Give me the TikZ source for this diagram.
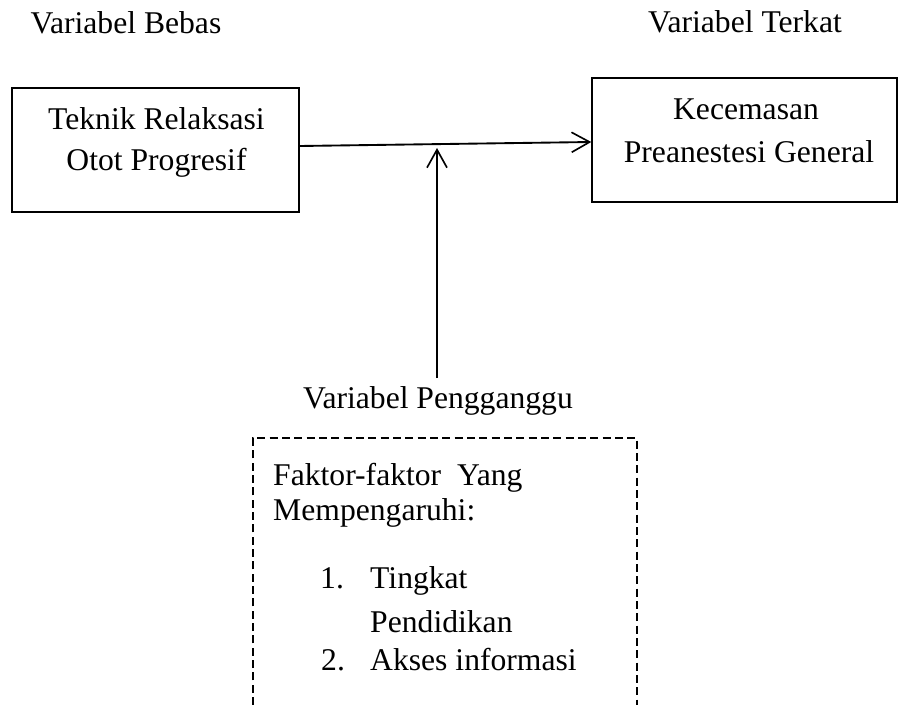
\documentclass[tikz,border=0pt]{standalone}
\usepackage{fontspec}
\setmainfont{Liberation Serif}
\usetikzlibrary{arrows.meta}

\begin{document}
\begin{tikzpicture}[x=0.03cm, y=-0.03cm,
		every node/.style={font=\fontsize{27}{34}\selectfont, inner sep=0pt},
		varbox/.style={draw, line width=1.2pt, minimum width=#1},
		arr/.style={line width=1.6pt, -{Straight Barb[length=0.54cm, width=0.6cm, line width=1.4pt]}},
		dashbox/.style={line width=1pt, dash pattern=on 0.24cm off 0.13cm}]
			%%%%% START %%%%%
			\useasboundingbox (0, 0) rectangle (899, 705);
			
			\node[anchor=base] (lblbebas) at (126, 34) {Variabel Bebas};
			\node[anchor=base] (lblterkat) at (745, 33) {Variabel Terkat};
			
			\node[varbox=8.61cm, minimum height=3.72cm] (bebas) at (155.5, 150) {};
			\node[anchor=base] (bebas1) at (156.5, 130) {Teknik Relaksasi};
			\node[anchor=base] (bebas2) at (156.5, 170) {Otot Progresif};
			
			\node[varbox=9.15cm, minimum height=3.72cm] (terkat) at (744.5, 140) {};
			\node[anchor=base] (terkat1) at (746, 120) {Kecemasan};
			\node[anchor=base] (terkat2) at (749, 162) {Preanestesi General};
			
			\draw[arr] ([yshift=0.12cm]bebas.east) -- ([yshift=-0.06cm]terkat.west);
			
			\coordinate (meet) at (437, 148);
			\coordinate (pgfoot) at (437, 378);
			\draw[arr] (pgfoot) -- (meet);
			
			\node[anchor=base] (lblganggu) at (438, 408) {Variabel Pengganggu};
			\draw[dashbox] (253, 705) |- (637, 438) -- (637, 705);
			
			\node[anchor=base west] (faktor) at (273, 485) {Faktor-faktor\ \ Yang};
			\node[anchor=base west] (pengaruh) at (273, 520) {Mempengaruhi:};
			\node[anchor=base west] (num1) at (320, 588) {1.};
			\node[anchor=base west] (item1) at (370, 588) {Tingkat};
			\node[anchor=base west] (item1b) at (370, 632) {Pendidikan};
			\node[anchor=base west] (num2) at (321, 670) {2.};
			\node[anchor=base west] (item2) at (370, 670) {Akses informasi};
			%%%%% END %%%%%
\end{tikzpicture}
\end{document}
